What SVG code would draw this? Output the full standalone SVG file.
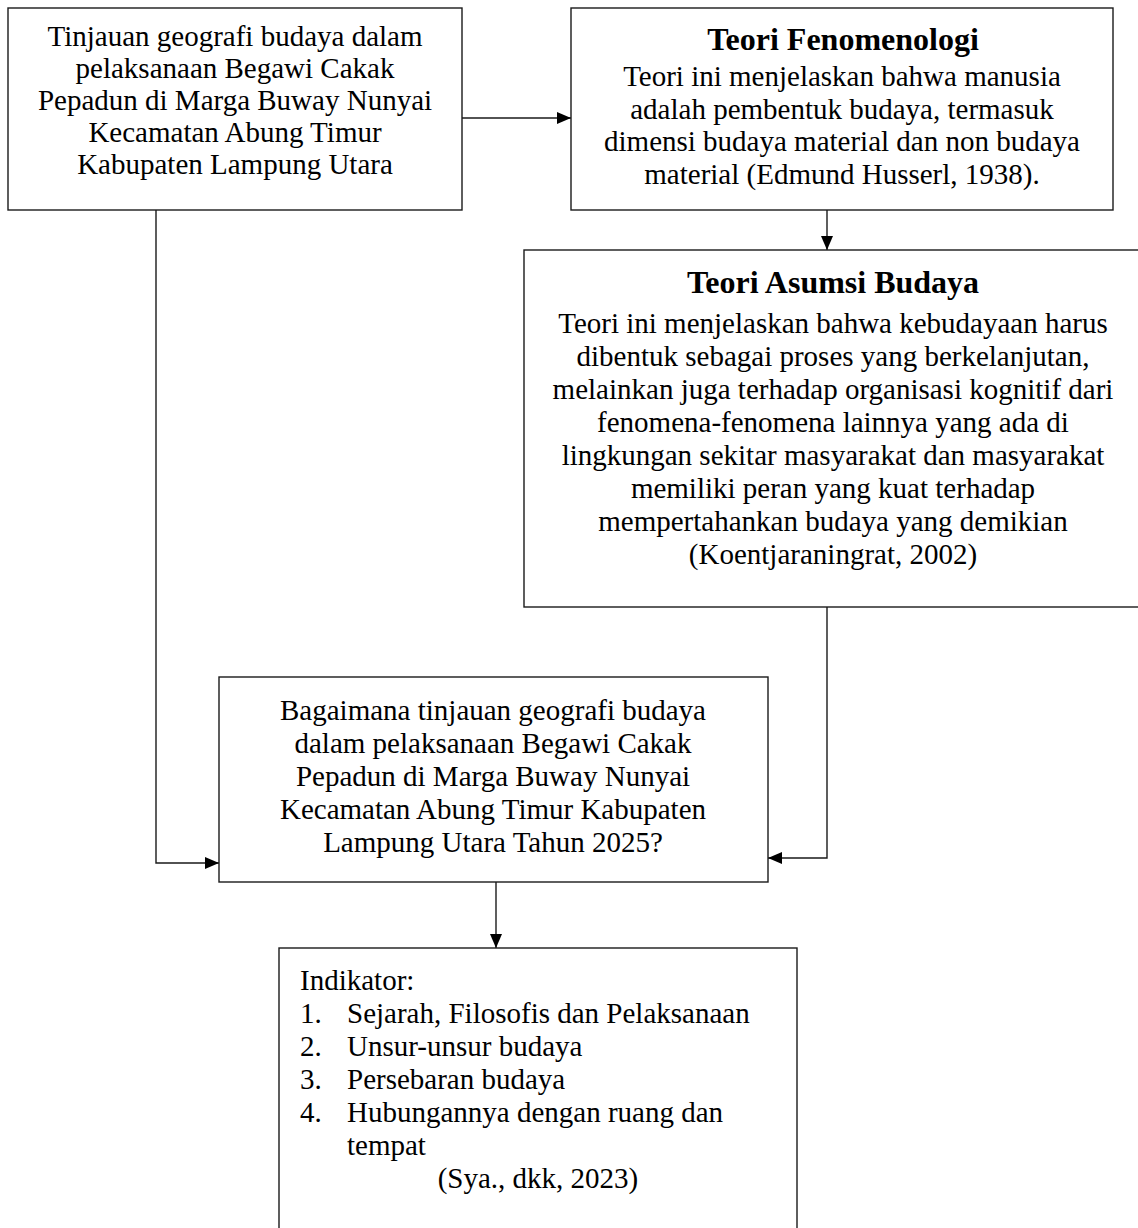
<svg xmlns="http://www.w3.org/2000/svg" width="1138" height="1228" viewBox="0 0 1138 1228">
<style>
.box{fill:#fff;stroke:#1a1a1a;stroke-width:1.4}
.t{font-family:"Liberation Serif","Times New Roman",serif;font-size:29px;fill:#000}
.c{text-anchor:middle}
.b{font-weight:bold;font-size:32px}
.con{fill:none;stroke:#1a1a1a;stroke-width:1.4}
</style>
<defs>
<marker id="ah" markerUnits="userSpaceOnUse" viewBox="0 0 14 12" refX="14" refY="6" markerWidth="14" markerHeight="12" orient="auto">
<path d="M0,0 L14,6 L0,12 z" fill="#000"/>
</marker>
</defs>
<rect width="1138" height="1228" fill="#fff"/>
<g id="connectors">
<line class="con" x1="462" y1="118" x2="571" y2="118" marker-end="url(#ah)"/>
<line class="con" x1="827" y1="210" x2="827" y2="250" marker-end="url(#ah)"/>
<polyline class="con" points="827,607 827,858 768,858" marker-end="url(#ah)"/>
<polyline class="con" points="156,210 156,863 219,863" marker-end="url(#ah)"/>
<line class="con" x1="496" y1="882" x2="496" y2="948" marker-end="url(#ah)"/>
</g>
<g id="node1">
<rect class="box" x="8" y="8" width="454" height="202"/>
<text class="t c" x="235" y="46">Tinjauan geografi budaya dalam</text>
<text class="t c" x="235" y="78">pelaksanaan Begawi Cakak</text>
<text class="t c" x="235" y="110">Pepadun di Marga Buway Nunyai</text>
<text class="t c" x="235" y="142">Kecamatan Abung Timur</text>
<text class="t c" x="235" y="174">Kabupaten Lampung Utara</text>
</g>
<g id="node2">
<rect class="box" x="571" y="8" width="542" height="202"/>
<text class="t c b" x="843" y="50">Teori Fenomenologi</text>
<text class="t c" x="842" y="86">Teori ini menjelaskan bahwa manusia</text>
<text class="t c" x="842" y="119">adalah pembentuk budaya, termasuk</text>
<text class="t c" x="842" y="151">dimensi budaya material dan non budaya</text>
<text class="t c" x="842" y="184">material (Edmund Husserl, 1938).</text>
</g>
<g id="node3">
<rect class="box" x="524" y="250" width="620" height="357"/>
<text class="t c b" x="833" y="293">Teori Asumsi Budaya</text>
<text class="t c" x="833" y="333">Teori ini menjelaskan bahwa kebudayaan harus</text>
<text class="t c" x="833" y="366">dibentuk sebagai proses yang berkelanjutan,</text>
<text class="t c" x="833" y="399">melainkan juga terhadap organisasi kognitif dari</text>
<text class="t c" x="833" y="432">fenomena-fenomena lainnya yang ada di</text>
<text class="t c" x="833" y="465">lingkungan sekitar masyarakat dan masyarakat</text>
<text class="t c" x="833" y="498">memiliki peran yang kuat terhadap</text>
<text class="t c" x="833" y="531">mempertahankan budaya yang demikian</text>
<text class="t c" x="833" y="564">(Koentjaraningrat, 2002)</text>
</g>
<g id="node4">
<rect class="box" x="219" y="677" width="549" height="205"/>
<text class="t c" x="493" y="720">Bagaimana tinjauan geografi budaya</text>
<text class="t c" x="493" y="753">dalam pelaksanaan Begawi Cakak</text>
<text class="t c" x="493" y="786">Pepadun di Marga Buway Nunyai</text>
<text class="t c" x="493" y="819">Kecamatan Abung Timur Kabupaten</text>
<text class="t c" x="493" y="852">Lampung Utara Tahun 2025?</text>
</g>
<g id="node5">
<rect class="box" x="279" y="948" width="518" height="300"/>
<text class="t" x="300" y="990">Indikator:</text>
<text class="t" x="300" y="1023">1.</text>
<text class="t" x="347" y="1023">Sejarah, Filosofis dan Pelaksanaan</text>
<text class="t" x="300" y="1056">2.</text>
<text class="t" x="347" y="1056">Unsur-unsur budaya</text>
<text class="t" x="300" y="1089">3.</text>
<text class="t" x="347" y="1089">Persebaran budaya</text>
<text class="t" x="300" y="1122">4.</text>
<text class="t" x="347" y="1122">Hubungannya dengan ruang dan</text>
<text class="t" x="347" y="1155">tempat</text>
<text class="t c" x="538" y="1188">(Sya., dkk, 2023)</text>
</g>
</svg>
